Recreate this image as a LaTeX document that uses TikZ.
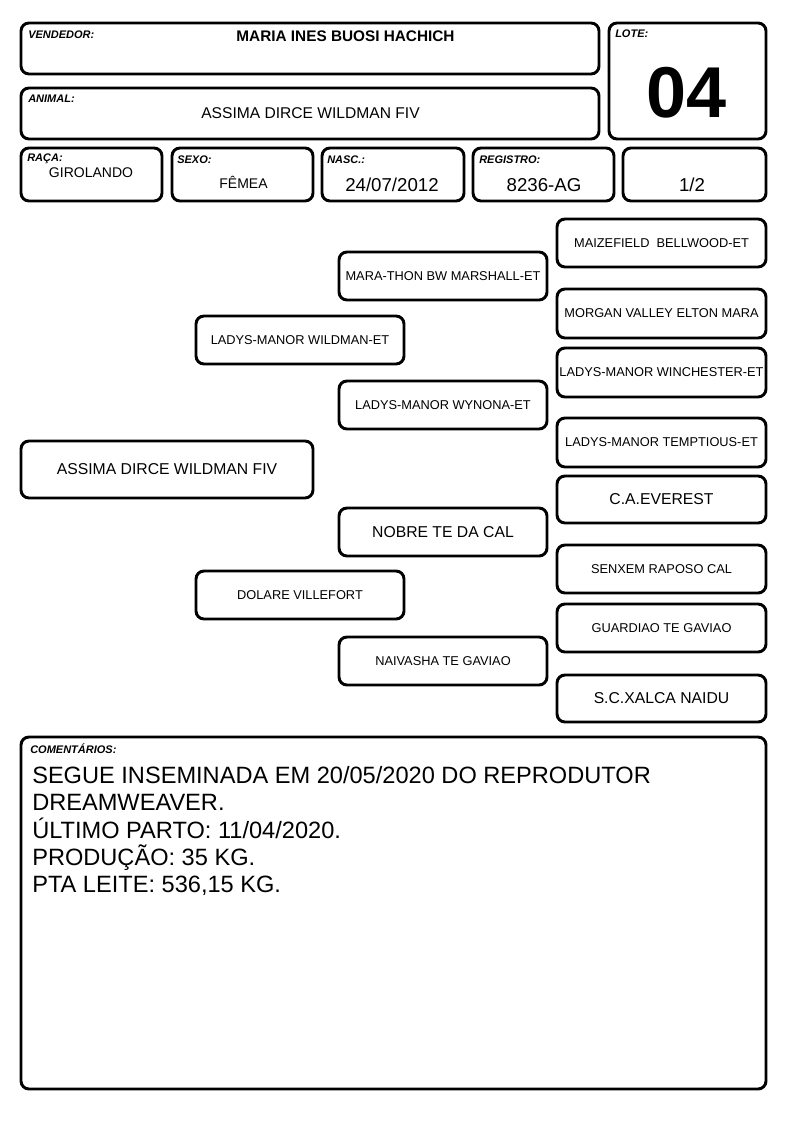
\documentclass[tikz,border=0pt]{standalone}
\usepackage{fontspec}
\setmainfont{Liberation Sans}
\newcommand\pbox[6][]{%
  \node[box,#1,minimum width={(#5-#3)*0.75pt},minimum height={(#6-#4)*0.75pt}] (#2) at ({(#3+#5)/2},{(#4+#6)/2})}
\tikzset{
  box/.style={draw, line width=2.2pt, rounded corners=6pt, inner sep=0pt, align=center},
  lab/.style={anchor=base west, inner sep=0pt, font=\fontsize{8.25pt}{9pt}\selectfont\bfseries\itshape},
  val/.style={anchor=base, inner sep=0pt, font=\fontsize{10.5pt}{12pt}\selectfont},
  valL/.style={anchor=base, inner sep=0pt, font=\fontsize{14pt}{16pt}\selectfont},
  ped/.style={font=\fontsize{9.6pt}{11pt}\selectfont},
  pedL/.style={font=\fontsize{11.8pt}{13pt}\selectfont},
  com/.style={anchor=base west, inner sep=0pt, font=\fontsize{17.7pt}{20pt}\selectfont}
}
\begin{document}
\begin{tikzpicture}[x=0.75pt,y=-0.75pt]
\useasboundingbox[fill=white] (0,0) rectangle (794,1123);
% header boxes
\pbox{vend}{21}{23}{599}{74} {};
\pbox{lote}{609}{23}{766}{139} {};
\pbox{anim}{21}{88}{599}{139} {};
\pbox{raca}{21}{148}{162}{201} {};
\pbox{sexo}{172}{148}{313}{201} {};
\pbox{nasc}{322}{148}{464}{201} {};
\pbox{regi}{473}{148}{614}{201} {};
\pbox{frac}{623}{148}{766}{201} {};
% labels
\node[lab] (lvend) at (28,39) {VENDEDOR:};
\node[lab] (llote) at (615,38) {LOTE:};
\node[lab] (lanim) at (28,103) {ANIMAL:};
\node[lab] (lraca) at (27,162) {RAÇA:};
\node[lab] (lsexo) at (177,164) {SEXO:};
\node[lab] (lnasc) at (327,164) {NASC.:};
\node[lab] (lregi) at (479,164) {REGISTRO:};
% values
\node[val, font=\fontsize{11.5pt}{13pt}\selectfont\bfseries] (vvend) at (345.5,42) {MARIA INES BUOSI HACHICH};
\node[val, font=\fontsize{54pt}{60pt}\selectfont\bfseries] (vlote) at (687,118) {04};
\node[val, font=\fontsize{11.7pt}{13pt}\selectfont] (vanim) at (310.5,119) {ASSIMA DIRCE WILDMAN FIV};
\node[val] (vraca) at (91,178) {GIROLANDO};
\node[val] (vsexo) at (243.5,189) {FÊMEA};
\node[valL] (vnasc) at (392,192) {24/07/2012};
\node[valL] (vregi) at (544,192) {8236-AG};
\node[valL] (vfrac) at (692,192) {1/2};
% pedigree
\pbox[pedL]{p0}{21}{441}{313}{498} {ASSIMA DIRCE WILDMAN FIV};
\pbox[ped]{p1}{196}{316}{404}{364} {LADYS-MANOR WILDMAN-ET};
\pbox[ped]{p2}{196}{571}{404}{619} {DOLARE VILLEFORT};
\pbox[ped]{p11}{339}{252}{547}{300} {MARA-THON BW MARSHALL-ET};
\pbox[ped]{p12}{339}{381}{547}{429} {LADYS-MANOR WYNONA-ET};
\pbox[pedL]{p21}{339}{508}{547}{556} {NOBRE TE DA CAL};
\pbox[ped]{p22}{339}{637}{547}{685} {NAIVASHA TE GAVIAO};
\pbox[ped]{p111}{557}{219}{766}{267} {MAIZEFIELD\ \ BELLWOOD-ET};
\pbox[ped]{p112}{557}{289}{766}{338} {MORGAN VALLEY ELTON MARA};
\pbox[ped]{p121}{557}{348}{766}{397} {LADYS-MANOR WINCHESTER-ET};
\pbox[ped]{p122}{557}{418}{766}{467} {LADYS-MANOR TEMPTIOUS-ET};
\pbox[pedL]{p211}{557}{476}{766}{523} {C.A.EVEREST};
\pbox[ped]{p212}{557}{545}{766}{593} {SENXEM RAPOSO CAL};
\pbox[ped]{p221}{557}{604}{766}{652} {GUARDIAO TE GAVIAO};
\pbox[pedL]{p222}{557}{675}{766}{722} {S.C.XALCA NAIDU};
% comments
\pbox{coment}{21}{737}{766}{1089} {};
\node[lab] (lcom) at (30,753) {COMENTÁRIOS:};
\node[com] (c1) at (32,783) {SEGUE INSEMINADA EM 20/05/2020 DO REPRODUTOR};
\node[com] (c2) at (32,810.5) {DREAMWEAVER.};
\node[com] (c3) at (32,838) {ÚLTIMO PARTO: 11/04/2020.};
\node[com] (c4) at (32,865) {PRODUÇÃO: 35 KG.};
\node[com] (c5) at (32,892) {PTA LEITE: 536,15 KG.};
\end{tikzpicture}
\end{document}
